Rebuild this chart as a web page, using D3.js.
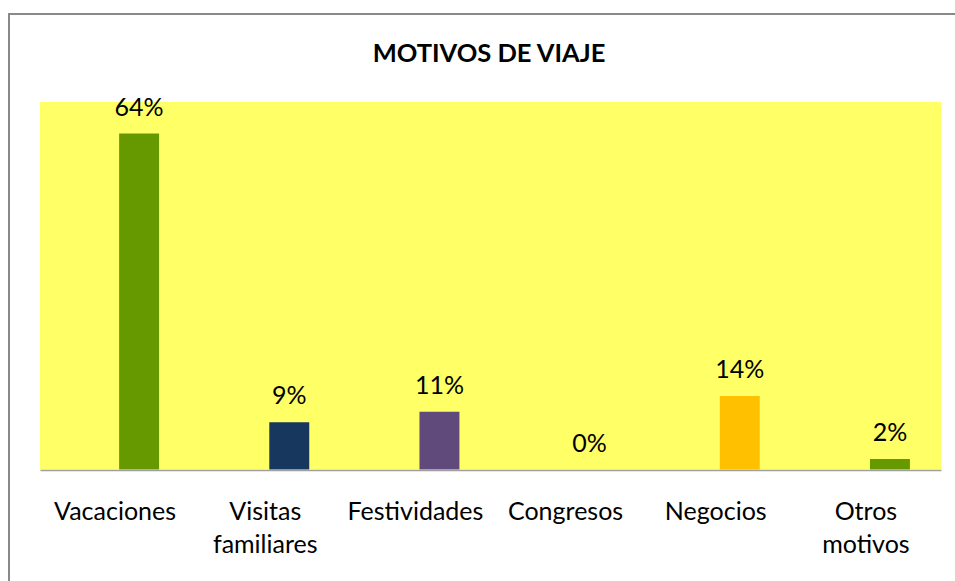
<!DOCTYPE html>
<html>
<head>
<meta charset="utf-8">
<script src="https://cdn.jsdelivr.net/npm/d3@7"></script>
<style>
  html, body { margin: 0; background: #fff; overflow: hidden; }
  svg { display: block; }
  text { font-family: Lato, "Open Sans", sans-serif; fill: #000; }
</style>
</head>
<body>
<script>
var width = 955, height = 581;

// data
const categories = ["Vacaciones", "Visitas familiares", "Festividades", "Congresos", "Negocios", "Otros motivos"];
const values = [0.64, 0.09, 0.11, 0.00, 0.14, 0.02];
const barColors = ["#669900", "#17375E", "#604A7B", "#4F81BD", "#FFC000", "#669900"];
const chartTitle = "MOTIVOS DE VIAJE";

var plot = {left: 40, top: 102, right: 941, bottom: 469.5};

var svg = d3.select("body").append("svg")
  .attr("width", width)
  .attr("height", height);

// outer chart border (runs off the picture to the right and bottom)
svg.append("path")
  .attr("d", "M9," + height + "V14H" + width)
  .attr("fill", "none")
  .attr("stroke", "#898989")
  .attr("stroke-width", 2);

// plot area
svg.append("rect")
  .attr("x", plot.left).attr("y", plot.top)
  .attr("width", plot.right - plot.left)
  .attr("height", plot.bottom - plot.top)
  .attr("fill", "#FFFF66");

var xscale = d3.scaleBand().domain(categories).range([plot.left, plot.right]);
var yscale = d3.scaleLinear().domain([0, 0.70]).range([plot.bottom, plot.top]);
var fmt = d3.format(".0%");

var bw = xscale.bandwidth();
var barW = bw * 0.266;
var barShift = bw * 0.027;   // bars sit a bit right of the category centre

var rows = categories.map((c, i) => ({cat: c, v: values[i], color: barColors[i]}));

svg.selectAll("rect.bar")
  .data(rows)
  .enter()
  .append("rect")
  .attr("class", "bar")
  .attr("x", d => xscale(d.cat) + bw / 2 + barShift)
  .attr("y", d => yscale(d.v))
  .attr("width", barW)
  .attr("height", d => yscale(0) - yscale(d.v))
  .attr("fill", d => d.color);

// data labels
svg.selectAll("text.val")
  .data(rows)
  .enter()
  .append("text")
  .attr("class", "val")
  .attr("x", d => xscale(d.cat) + bw / 2 + barShift + barW / 2)
  .attr("y", d => yscale(d.v) - 18)
  .attr("text-anchor", "middle")
  .style("font-size", "25px")
  .text(d => fmt(d.v));

// baseline axis
var xAxis = d3.axisBottom(xscale).tickSize(0).tickFormat("");
var gx = svg.append("g")
  .attr("transform", "translate(0," + (plot.bottom + 0.5) + ")")
  .call(xAxis);
gx.select(".domain").attr("stroke", "#A0A0A0").attr("stroke-width", 1.5);

// category labels (wrapped)
var labels = svg.selectAll("text.cat")
  .data(categories)
  .enter()
  .append("text")
  .attr("class", "cat")
  .attr("text-anchor", "middle")
  .style("font-size", "25px");
labels.each(function (c) {
  var words = c.split(" ");
  var t = d3.select(this);
  words.forEach((w, j) => {
    t.append("tspan")
      .attr("x", xscale(c) + bw / 2)
      .attr("y", 520 + j * 32.5)
      .text(w);
  });
});

svg.append("text")
  .attr("x", 489)
  .attr("y", 62)
  .attr("text-anchor", "middle")
  .style("font-size", "25.5px")
  .style("font-weight", "bold")
  .text(chartTitle);
</script>
</body>
</html>
